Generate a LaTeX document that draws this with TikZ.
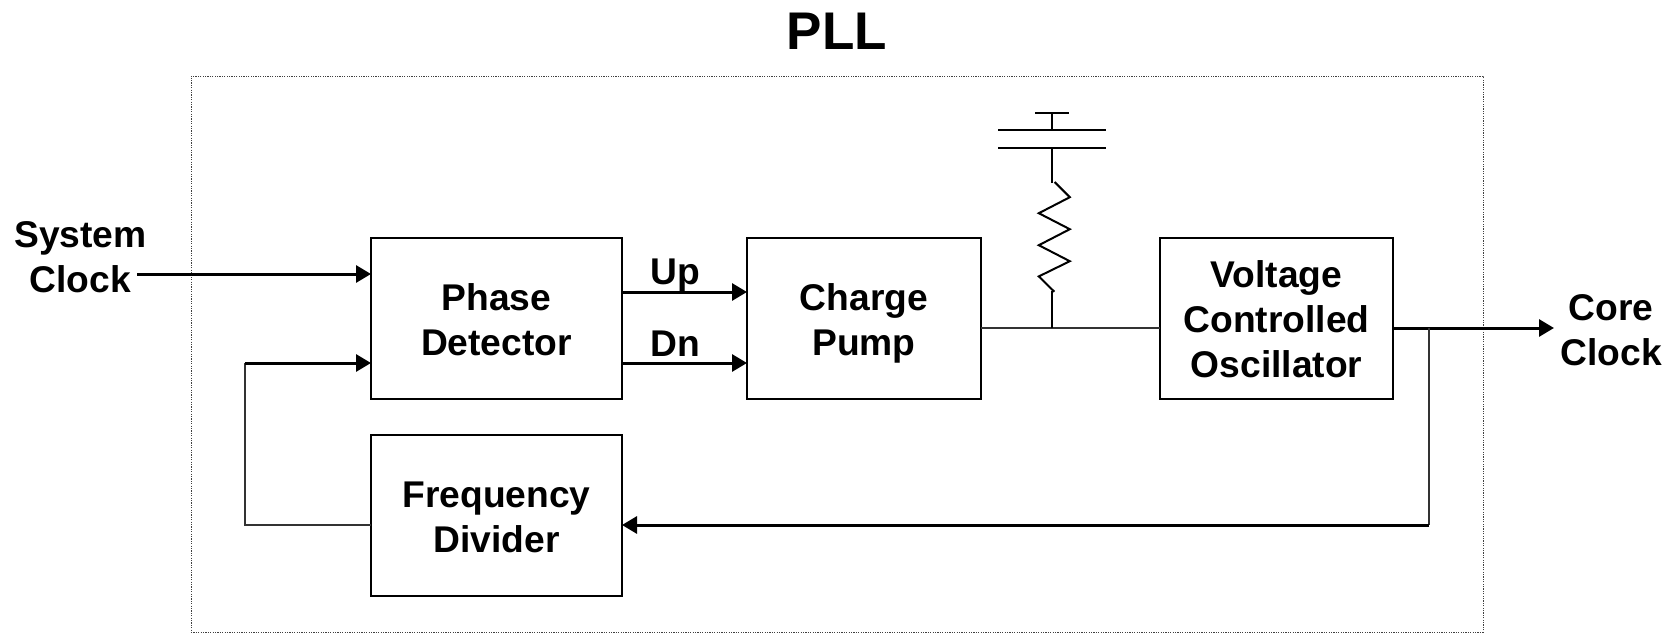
\documentclass[tikz,border=0pt]{standalone}
\usepackage{fontspec}
\setmainfont{Liberation Sans}
\usetikzlibrary{positioning, arrows.meta, calc}
\newcommand{\lowertext}{\rule{0pt}{14.9pt}}
\tikzstyle{block} = [rectangle, draw, line width=1pt, outer sep=0pt, minimum height=80.5pt, font=\fontsize{18.6}{22.4}\selectfont\bfseries, align=center]
\tikzstyle{label} = [font=\fontsize{18.6}{22.4}\selectfont\bfseries, align=center, inner sep=0pt]
\tikzstyle{arrow} = [line width=1.5pt, -{Triangle[length=7.5pt, width=8.5pt]}]
\tikzstyle{wire} = [line width=0.9pt, black!80]
\tikzstyle{plate} = [line width=1pt]
\tikzstyle{outline} = [draw=black!75, line width=0.5pt, dash pattern=on 0.6pt off 0.6pt]

\begin{document}
\begin{tikzpicture}
  \useasboundingbox (0,0) rectangle (837.5pt,-316.5pt);

  % Outer box and title
  \node (pll_box) [outline, rectangle, minimum width=646pt, minimum height=278pt, outer sep=0pt] at (418.5pt,-177pt) {};
  \node (title) [font=\fontsize{26.5}{31}\selectfont\bfseries, inner sep=0pt] at (418.5pt,-15.5pt) {PLL};

  % Blocks
  \node (phase) [block, minimum width=125.5pt] at (248.25pt,-159pt) {\lowertext Phase\\ Detector};
  \node (pump) [block, minimum width=117pt, right=62.5pt of phase] {\lowertext Charge\\ \smash{Pump}};
  \node (vco) [block, minimum width=116.5pt, right=89.5pt of pump] {\lowertext Voltage\\ Controlled\\ Oscillator};
  \node (divider) [block, minimum width=125.5pt, below=18pt of phase] {\lowertext Frequency\\ Divider};

  % Outside labels
  \node (sys_clk) [label, left=112pt of phase, yshift=30.5pt] {System\\ Clock};
  \node (core_clk) [label, right=83.5pt of vco, yshift=-6pt] {Core\\ Clock};
  \coordinate (core_end) at ($(vco.east)+(80.5pt,-5pt)$);

  % Main flow
  \draw[arrow] ([xshift=-117pt, yshift=22pt]phase.west) -- ([yshift=22pt]phase.west);
  \draw[arrow] ([yshift=13pt]phase.east) -- node[label, above=-0.7pt, xshift=-4.5pt] (up) {Up} ([yshift=13pt]pump.west);
  \draw[arrow] ([yshift=-22.5pt]phase.east) -- node[label, above=2.5pt, xshift=-4.5pt] (dn) {Dn} ([yshift=-22.5pt]pump.west);
  \draw[arrow] ([yshift=-5pt]vco.east) -- (core_end);

  % Loop filter
  \draw[wire] ([yshift=-5pt]pump.east) -- ([yshift=-5pt]vco.west);
  \coordinate (filter) at ($(pump.east)+(35.5pt,-5pt)$);
  \coordinate (r_bot) at ($(filter)+(0,18.5pt)$);
  \coordinate (r_top) at ($(filter)+(0,72.5pt)$);
  \coordinate (c_low) at ($(filter)+(0,90pt)$);
  \coordinate (c_up) at ($(filter)+(0,99pt)$);
  \coordinate (c_top) at ($(filter)+(0,107.5pt)$);
  \draw[plate] (filter) -- (r_bot);
  \draw[plate] (r_top) -- (c_low);
  \draw[plate] ($(r_top)+(1.3pt,0.5pt)$) -- ++(7.6pt,-7.6pt) -- ++(-15.5pt,-8pt) -- ++(15.5pt,-8pt)
    -- ++(-15.5pt,-8pt) -- ++(15.5pt,-8pt) -- ++(-15.5pt,-7.6pt) -- ++(7.8pt,-7.7pt);
  \draw[plate] ($(c_low)+(-27pt,0)$) -- ($(c_low)+(27pt,0)$);
  \draw[plate] ($(c_up)+(-27pt,0)$) -- ($(c_up)+(27pt,0)$);
  \draw[plate] (c_up) -- (c_top);
  \draw[plate] ($(c_top)+(-8.5pt,0)$) -- ($(c_top)+(8.5pt,0)$);

  % Feedback
  \coordinate (fb_tap) at ($(vco.east)+(18pt,-5pt)$);
  \coordinate (fb_low) at ($(divider.east -| fb_tap)+(0,-5pt)$);
  \coordinate (fb_left) at ($(divider.west)+(-63pt,-5pt)$);
  \coordinate (fb_top) at ($(phase.west)+(-63pt,-22.5pt)$);
  \draw[wire] (fb_tap) -- (fb_low);
  \draw[arrow] (fb_low) -- ([yshift=-5pt]divider.east);
  \draw[wire] ([yshift=-5pt]divider.west) -- (fb_left) -- (fb_top);
  \draw[arrow] (fb_top) -- ([yshift=-22.5pt]phase.west);

\end{tikzpicture}
\end{document}
